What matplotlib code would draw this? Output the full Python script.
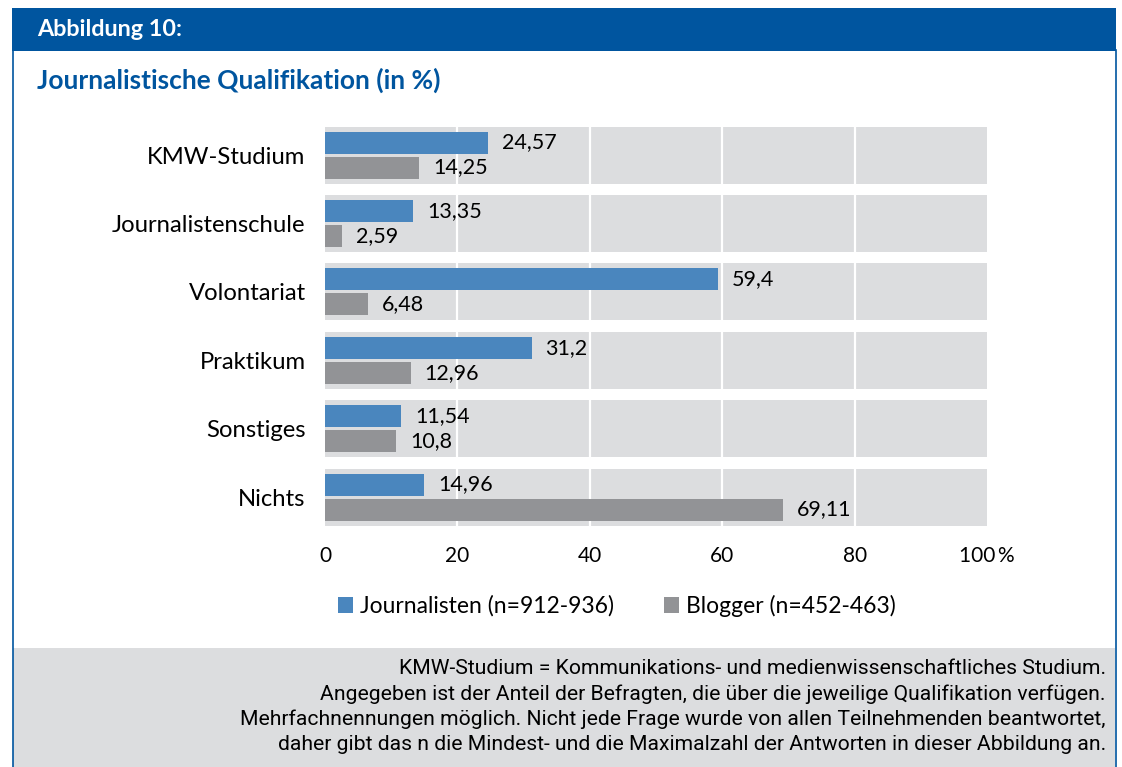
import matplotlib
matplotlib.use("Agg")
import matplotlib.pyplot as plt
from matplotlib.patches import Rectangle, Patch
import numpy as np

# ================================
# DATA
# ================================
categories = ["KMW-Studium", "Journalistenschule", "Volontariat", "Praktikum", "Sonstiges", "Nichts"]
journalisten = [24.57, 13.35, 59.4, 31.2, 11.54, 14.96]
blogger = [14.25, 2.59, 6.48, 12.96, 10.8, 69.11]
series_labels = ["Journalisten (n=912-936)", "Blogger (n=452-463)"]
x_ticks = [0, 20, 40, 60, 80, 100]
x_ticklabels = ["0", "20", "40", "60", "80", "100\u2009%"]
header_text = "Abbildung 10:"
title_text = "Journalistische Qualifikation (in %)"
footer_lines = [
    "KMW-Studium = Kommunikations- und medienwissenschaftliches Studium.",
    "Angegeben ist der Anteil der Befragten, die über die jeweilige Qualifikation verfügen.",
    "Mehrfachnennungen möglich. Nicht jede Frage wurde von allen Teilnehmenden beantwortet,",
    "daher gibt das n die Mindest- und die Maximalzahl der Antworten in dieser Abbildung an.",
]

# ================================
# STYLE
# ================================
W, H = 1122, 767
DARK_BLUE = "#00559F"
BAR_BLUE = "#4A86BE"
BAR_GREY = "#929396"
BAND_GREY = "#DCDDDF"
FONT = ["Lato", "DejaVu Sans"]
plt.rcParams["font.family"] = FONT


def fx(px):
    return px / W


def fy(py):
    return 1 - py / H


fig = plt.figure(figsize=(W / 100, H / 100), dpi=100)

# header bar, footer band and frame
fig.patches.append(Rectangle((fx(12), fy(51)), fx(1104), 43 / H, transform=fig.transFigure,
                             facecolor=DARK_BLUE, edgecolor="none", zorder=0))
fig.patches.append(Rectangle((fx(13), 0), fx(1102), fy(648), transform=fig.transFigure,
                             facecolor=BAND_GREY, edgecolor="none", zorder=0))
fig.add_artist(plt.Line2D([fx(12.5), fx(12.5)], [0, fy(50)], transform=fig.transFigure,
                          color=DARK_BLUE, lw=1.2))
fig.add_artist(plt.Line2D([fx(1115.5), fx(1115.5)], [0, fy(50)], transform=fig.transFigure,
                          color=DARK_BLUE, lw=1.2))

fig.text(fx(37), fy(30), header_text, color="white", fontsize=16.8, fontweight="bold",
         va="center", ha="left")
fig.text(fx(37), fy(80), title_text, color=DARK_BLUE, fontsize=19, fontweight="bold",
         va="center", ha="left")

# ================================
# BAR CHART
# ================================
top_c, step = 155, 68.4
y_top = top_c - step / 2
y_bot = top_c + 5.5 * step
ax = fig.add_axes([fx(325), fy(y_bot), fx(987) - fx(325), (y_bot - y_top) / H])

y = np.arange(len(categories))
off = 12.5 / step
bh = 22 / step

ax.barh(y, [100] * len(categories), height=57 / step, color=BAND_GREY, zorder=0.5)
ax.vlines([20, 40, 60, 80], -0.5, len(categories) - 0.5, colors="white", lw=1.6, zorder=1)
ax.barh(y - off, journalisten, height=bh, color=BAR_BLUE, zorder=2)
ax.barh(y + off, blogger, height=bh, color=BAR_GREY, zorder=2)

for i in range(len(categories)):
    ax.annotate(f"{journalisten[i]:g}".replace(".", ","), (journalisten[i], y[i] - off),
                xytext=(10, 0), textcoords="offset points", va="center", ha="left", fontsize=15.5)
    ax.annotate(f"{blogger[i]:g}".replace(".", ","), (blogger[i], y[i] + off),
                xytext=(10, 0), textcoords="offset points", va="center", ha="left", fontsize=15.5)

ax.set_xlim(0, 100)
ax.set_ylim(len(categories) - 0.5, -0.5)
ax.set_yticks(y)
ax.set_yticklabels(categories, fontsize=17.2)
ax.set_xticks(x_ticks)
ax.set_xticklabels(x_ticklabels, fontsize=15)
ax.tick_params(axis="both", length=0)
ax.tick_params(axis="y", pad=14)
ax.tick_params(axis="x", pad=11)
for s in ax.spines.values():
    s.set_visible(False)
ax.set_facecolor("none")

handles = [Patch(facecolor=BAR_BLUE), Patch(facecolor=BAR_GREY)]
fig.legend(handles, series_labels, loc="center", bbox_to_anchor=(fx(617), fy(606)),
           ncol=2, frameon=False, fontsize=16.5, handlelength=0.65, handleheight=0.65,
           handletextpad=0.3, columnspacing=2.2, borderpad=0)

# ================================
# FOOTER
# ================================
for k, line in enumerate(footer_lines):
    fig.text(fx(1106), fy(669 + 25 * k), line, ha="right", va="center", fontsize=15.2,
             family=["Liberation Sans Narrow", "Roboto", "DejaVu Sans"])

fig.savefig("out.png", dpi=100)
